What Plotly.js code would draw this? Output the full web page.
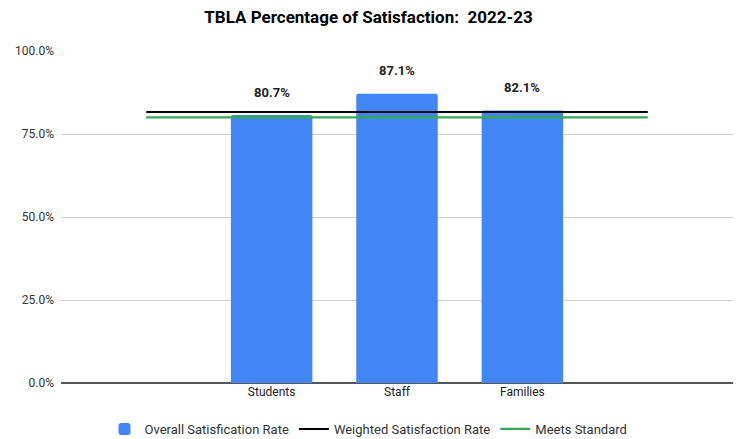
<!DOCTYPE html>
<html>
<head>
<meta charset="utf-8">
<script src="https://cdn.plot.ly/plotly-3.0.1.min.js"></script>
<style>html,body{margin:0;padding:0;background:#fff}#chart{width:737px;height:439px}</style>
</head>
<body>
<div id="chart"></div>
<script>
const categories = ["", "Students", "Staff", "Families", ""];
const overall = [null, 80.7, 87.1, 82.1, null];
const weighted = [81.6, 81.6, 81.6, 81.6, 81.6];
const standard = [80, 80, 80, 80, 80];
const yTicks = [0, 25, 50, 75, 100];

const xs = categories.map((_, i) => i);
const font = "Roboto, Arial, sans-serif";

const traces = [
  {type: "bar", name: "Overall Satisfication Rate", x: xs, y: overall,
   marker: {color: "#4285F4", cornerradius: 2}, width: 0.65, hoverinfo: "y"},
  {type: "scatter", mode: "lines", name: "Weighted Satisfaction Rate", x: xs, y: weighted,
   line: {color: "#000000", width: 2}},
  {type: "scatter", mode: "lines", name: "Meets Standard", x: xs, y: standard,
   line: {color: "#34A853", width: 2.2}}
];

const annotations = [];
overall.forEach((v, i) => {
  if (v === null) return;
  annotations.push({x: xs[i], y: v, xref: "x", yref: "y", text: v.toFixed(1) + "%",
    showarrow: false, yshift: 23, font: {family: font, size: 13, color: "#222", weight: "bold"}});
});

const layout = {
  width: 737, height: 439,
  margin: {l: 61, r: 4, t: 51, b: 56},
  paper_bgcolor: "#fff", plot_bgcolor: "#fff",
  title: {text: "<b>TBLA Percentage of Satisfaction:  2022-23</b>", x: 0.5, xref: "container",
    y: 1 - 17/439, yref: "container", yanchor: "middle",
    font: {family: font, size: 17, color: "#000"}},
  xaxis: {range: [-0.68, 4.68], tickvals: xs, ticktext: categories, showgrid: false,
    zeroline: false, showline: false, ticks: "", tickfont: {family: font, size: 12, color: "#222"}},
  yaxis: {range: [0, 100], tickvals: yTicks, ticktext: yTicks.map(t => t.toFixed(1) + "%"),
    gridcolor: "#cfcfcf", gridwidth: 1, zeroline: true, zerolinecolor: "#555", zerolinewidth: 1.5,
    showline: false, ticks: "", ticklabelstandoff: 6, tickfont: {family: font, size: 12, color: "#333"}},
  showlegend: true,
  legend: {orientation: "h", x: 0.5, xref: "container", xanchor: "center",
    y: 10/439, yref: "container", yanchor: "middle",
    font: {family: font, size: 13, color: "#333"}, itemwidth: 30, traceorder: "normal"},
  annotations: annotations,
  bargap: 0.35
};

Plotly.newPlot("chart", traces, layout, {displayModeBar: false, staticPlot: true});
</script>
</body>
</html>
